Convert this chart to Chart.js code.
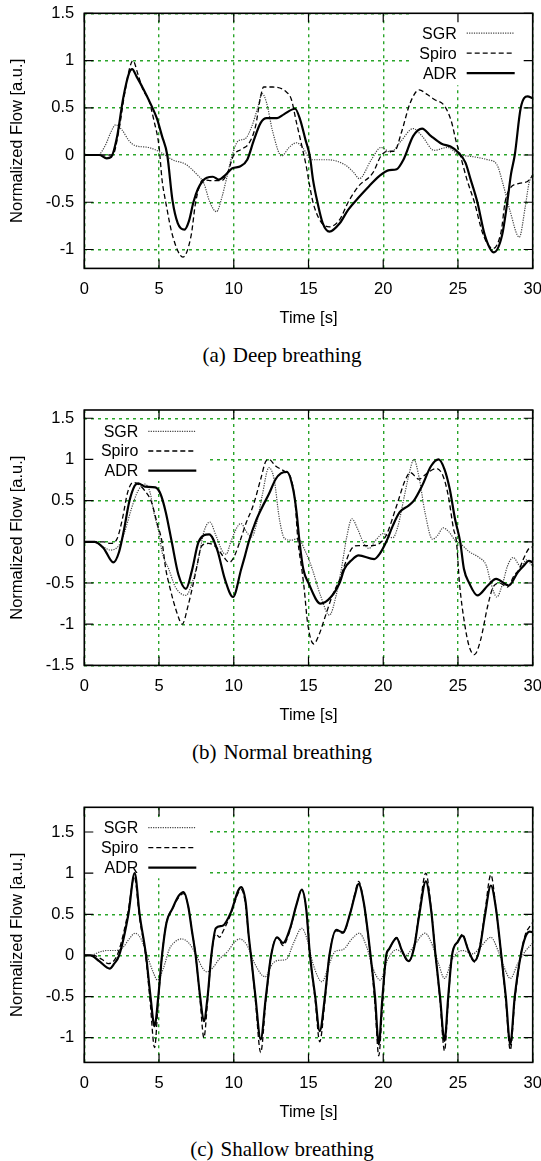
<!DOCTYPE html>
<html>
<head>
<meta charset="utf-8">
<script src="https://cdn.jsdelivr.net/npm/chart.js@4.4.1/dist/chart.umd.min.js"></script>
<style>
  html, body { margin: 0; padding: 0; background: #fff; overflow: hidden; }
  #page { position: relative; width: 541px; height: 1161px; overflow: hidden; background: #fff; }
  .panel { position: absolute; left: 0; width: 541px; }
  .caption { position: absolute; left: 0; width: 564px; text-align: center;
    font-family: 'Liberation Serif', 'Times New Roman', serif; font-size: 21px; line-height: 24px; color: #000; }
  .caption span { margin-right: 7px; }
</style>
</head>
<body>
<div id="page">
  <div class="panel" style="top:0px;height:328px"><canvas id="chartA" width="541" height="328"></canvas></div>
  <div class="caption" style="top:343px"><span>(a)</span>Deep breathing</div>
  <div class="panel" style="top:400px;height:325px"><canvas id="chartB" width="541" height="325"></canvas></div>
  <div class="caption" style="top:740px"><span>(b)</span>Normal breathing</div>
  <div class="panel" style="top:797px;height:325px"><canvas id="chartC" width="541" height="325"></canvas></div>
  <div class="caption" style="top:1137px"><span>(c)</span>Shallow breathing</div>
</div>
<script>
// ---------- tick labels ----------
const xTicks = [0, 5, 10, 15, 20, 25, 30];
const deepYTicks = [-1, -0.5, 0, 0.5, 1, 1.5];
const normalYTicks = [-1.5, -1, -0.5, 0, 0.5, 1, 1.5];
const shallowYTicks = [-1, -0.5, 0, 0.5, 1, 1.5];
const seriesNames = ['SGR', 'Spiro', 'ADR'];

// ---------- (a) Deep breathing : [time s, normalized flow] ----------
const deepSGR = [[0,0],[0.9,0],[1.4,0.1],[1.8,0.25],[2.1,0.32],[2.5,0.27],[3.0,0.15],[3.4,0.1],[4.3,0.08],[5.2,0.02],[5.9,-0.05],[6.8,-0.1],[7.5,-0.2],[8.0,-0.3],[8.4,-0.5],[8.85,-0.6],[9.2,-0.45],[9.5,-0.26],[9.9,0.0],[10.3,0.15],[10.75,0.17],[11.2,0.3],[11.6,0.5],[11.9,0.65],[12.2,0.55],[12.6,0.25],[13.2,-0.01],[13.7,0.08],[14.2,0.13],[14.6,0.08],[15.2,-0.05],[16.3,-0.05],[17.4,-0.1],[18.0,-0.18],[18.4,-0.25],[19.2,-0.05],[19.85,0.08],[20.5,0.03],[21.2,0.15],[22.0,0.28],[22.6,0.2],[23.4,0.05],[24.3,0.08],[25.0,0.01],[26.1,-0.02],[27.0,-0.05],[27.6,-0.1],[28.0,-0.3],[28.5,-0.6],[29.1,-0.87],[29.5,-0.55],[29.75,-0.3],[30,-0.2]];
const deepSpiro = [[0,0],[1.5,0],[1.9,0.0],[2.3,0.25],[2.7,0.65],[3.05,0.93],[3.25,1.0],[3.6,0.85],[3.95,0.68],[4.3,0.59],[4.65,0.37],[5.0,0.09],[5.2,-0.26],[5.45,-0.5],[5.9,-0.85],[6.6,-1.08],[7.15,-0.85],[7.45,-0.5],[7.95,-0.26],[8.4,-0.27],[9.2,-0.27],[9.6,-0.18],[10.0,0.0],[10.5,0.06],[11.0,0.12],[11.45,0.3],[11.8,0.62],[12.0,0.72],[12.6,0.72],[13.5,0.67],[13.85,0.59],[14.2,0.34],[14.55,0.1],[14.85,-0.12],[15.05,-0.3],[15.3,-0.5],[15.8,-0.7],[16.4,-0.76],[17.1,-0.68],[17.65,-0.5],[18.35,-0.33],[19.3,-0.19],[19.85,-0.01],[20.3,0.04],[20.75,0.04],[21.2,0.23],[21.8,0.55],[22.4,0.69],[22.95,0.64],[23.4,0.59],[24.1,0.52],[24.55,0.36],[24.9,0.13],[25.15,0],[25.6,-0.26],[26.1,-0.5],[26.7,-0.85],[27.35,-0.99],[27.9,-0.8],[28.15,-0.5],[28.5,-0.35],[29.1,-0.3],[29.65,-0.28],[30,-0.22]];
const deepADR = [[0,0],[1.0,0],[1.5,-0.035],[1.8,-0.02],[2.2,0.2],[2.6,0.6],[3.0,0.87],[3.2,0.91],[3.5,0.83],[3.95,0.70],[4.5,0.52],[4.85,0.39],[5.2,0.2],[5.55,0],[5.9,-0.48],[6.25,-0.72],[6.7,-0.79],[7.0,-0.7],[7.3,-0.5],[7.6,-0.36],[7.95,-0.27],[8.2,-0.24],[8.6,-0.23],[9.0,-0.26],[9.45,-0.21],[9.9,-0.14],[10.45,-0.12],[10.9,-0.05],[11.35,0.16],[11.8,0.34],[12.2,0.39],[12.9,0.39],[13.35,0.43],[14.1,0.49],[14.45,0.37],[14.8,0.16],[15.1,-0.02],[15.3,-0.26],[15.6,-0.5],[15.95,-0.72],[16.4,-0.81],[17.1,-0.72],[17.65,-0.58],[18.35,-0.45],[19.05,-0.33],[19.75,-0.22],[20.4,-0.16],[20.9,-0.15],[21.35,-0.05],[22.0,0.2],[22.6,0.28],[23.2,0.2],[23.9,0.12],[24.5,0.09],[25.0,0.03],[25.5,-0.08],[25.85,-0.26],[26.3,-0.5],[26.8,-0.85],[27.4,-1.03],[27.95,-0.85],[28.3,-0.5],[28.55,-0.2],[28.8,0],[29.2,0.5],[29.65,0.62],[30,0.6]];

// ---------- (b) Normal breathing ----------
const normalSGR = [[0,0],[0.6,0],[1.3,-0.065],[1.75,-0.1],[2.33,-0.04],[2.7,0.12],[3.15,0.4],[3.6,0.62],[4.05,0.7],[4.4,0.6],[4.65,0.36],[5.0,0.1],[5.2,-0.12],[5.65,-0.33],[6.1,-0.55],[6.8,-0.65],[7.3,-0.45],[7.65,-0.2],[8.0,0.12],[8.4,0.24],[8.8,0.08],[9.25,-0.12],[9.5,-0.15],[9.8,0.0],[10.3,0.2],[10.5,0.22],[10.85,0.12],[11.2,0.06],[11.55,0.24],[11.9,0.56],[12.35,0.9],[12.7,0.76],[13.05,0.28],[13.4,0.04],[13.85,0.02],[14.3,0.04],[14.8,-0.12],[15.25,-0.33],[15.8,-0.65],[16.4,-0.89],[16.85,-0.65],[17.2,-0.33],[17.55,0.05],[17.9,0.28],[18.3,0.15],[18.7,-0.02],[19.05,-0.08],[19.5,0.02],[20.0,0.1],[20.4,0.06],[20.65,0.05],[21.0,0.2],[21.35,0.5],[21.7,0.8],[22.05,1.0],[22.4,0.78],[22.8,0.35],[23.3,0.03],[23.65,0.08],[24.0,0.17],[24.4,0.12],[24.8,0.02],[25.15,-0.02],[25.75,-0.12],[26.4,-0.19],[26.9,-0.29],[27.2,-0.5],[27.6,-0.67],[28.0,-0.5],[28.3,-0.3],[28.7,-0.19],[29.2,-0.3],[29.6,-0.22],[30,-0.3]];
const normalSpiro = [[0,0],[1.3,0],[1.75,-0.02],[2.2,0.04],[2.55,0.28],[2.9,0.6],[3.25,0.72],[3.6,0.7],[4.05,0.62],[4.5,0.48],[4.85,0.24],[5.2,0.0],[5.45,-0.33],[5.65,-0.5],[6.25,-0.89],[6.55,-1.0],[6.95,-0.77],[7.3,-0.5],[7.5,-0.33],[7.85,-0.05],[8.3,-0.02],[8.8,-0.06],[9.35,-0.19],[9.7,-0.25],[10.05,-0.17],[10.4,0.0],[10.85,0.24],[11.3,0.44],[11.8,0.76],[12.15,0.98],[12.35,1.0],[12.8,0.92],[13.5,0.84],[13.85,0.76],[14.1,0.48],[14.3,0.0],[14.55,-0.33],[14.7,-0.55],[14.95,-1.0],[15.35,-1.24],[15.7,-1.13],[16.15,-0.89],[16.6,-0.65],[17.1,-0.45],[17.4,-0.29],[17.9,-0.08],[18.35,-0.045],[19.3,-0.045],[19.75,-0.02],[20.2,0.08],[20.9,0.44],[21.45,0.74],[21.8,0.84],[22.4,0.76],[22.85,0.82],[23.55,0.89],[24.0,0.8],[24.35,0.56],[24.7,0.16],[24.9,0.0],[25.1,-0.5],[25.45,-1.0],[25.75,-1.27],[26.1,-1.37],[26.5,-1.2],[27.0,-0.77],[27.35,-0.55],[27.8,-0.5],[28.3,-0.55],[28.75,-0.41],[29.1,-0.33],[29.4,-0.2],[29.75,-0.08],[30,-0.06]];
const normalADR = [[0,0],[0.7,0],[1.3,-0.08],[1.94,-0.25],[2.33,-0.12],[2.67,0.16],[3.0,0.48],[3.37,0.68],[3.6,0.71],[4.05,0.67],[4.75,0.66],[5.1,0.58],[5.45,0.36],[5.85,0.0],[6.3,-0.4],[6.8,-0.57],[7.2,-0.35],[7.65,0.0],[8.35,0.09],[8.9,-0.1],[9.4,-0.45],[9.95,-0.67],[10.5,-0.33],[10.75,-0.17],[11.0,0.0],[11.45,0.24],[11.9,0.42],[12.35,0.58],[12.8,0.76],[13.15,0.83],[13.55,0.85],[13.97,0.64],[14.2,0.36],[14.4,0.0],[14.65,-0.33],[15.0,-0.5],[15.8,-0.75],[16.5,-0.67],[17.1,-0.49],[17.4,-0.33],[17.9,-0.22],[18.35,-0.165],[19.4,-0.21],[19.75,-0.15],[20.2,0.0],[20.65,0.2],[21.1,0.36],[21.7,0.44],[22.05,0.5],[22.6,0.68],[23.2,0.92],[23.7,1.0],[24.1,0.88],[24.45,0.64],[24.8,0.28],[25.15,0.0],[25.4,-0.33],[25.75,-0.5],[26.3,-0.65],[27.0,-0.53],[27.55,-0.45],[28.4,-0.53],[29.0,-0.37],[29.4,-0.29],[29.75,-0.23],[30,-0.25]];

// ---------- (c) Shallow breathing ----------
const shallowSGR = [[0,0],[0.4,0],[1.0,0.04],[1.5,0.06],[2.1,0.06],[2.6,0.1],[3.0,0.2],[3.4,0.27],[3.8,0.2],[4.2,0.0],[4.6,-0.2],[4.9,-0.3],[5.3,-0.15],[5.7,0.08],[6.1,0.17],[6.5,0.2],[7.0,0.15],[7.5,0.0],[7.9,-0.15],[8.2,-0.2],[8.6,-0.15],[9.0,-0.05],[9.6,0.05],[10.0,0.15],[10.4,0.2],[10.9,0.12],[11.4,-0.1],[12.1,-0.26],[12.6,-0.1],[13.0,-0.06],[13.5,-0.05],[14.0,0.15],[14.55,0.33],[14.9,0.2],[15.3,-0.1],[15.9,-0.32],[16.4,-0.1],[16.8,0.05],[17.3,0.07],[17.9,0.2],[18.4,0.27],[18.9,0.1],[19.3,-0.15],[19.8,-0.3],[20.3,-0.05],[20.9,0.07],[21.5,0.0],[22.0,0.1],[22.8,0.27],[23.3,0.12],[23.7,-0.1],[24.1,-0.28],[24.6,-0.05],[25.3,0.06],[26.0,0.02],[26.5,0.1],[27.2,0.22],[27.7,0.05],[28.1,-0.15],[28.5,-0.28],[29.0,-0.1],[29.5,0.05],[30,0.15]];
const shallowSpiro = [[0,0],[0.6,0],[1.2,-0.05],[1.6,-0.1],[2.0,-0.06],[2.3,0.05],[2.9,0.5],[3.35,0.95],[3.7,0.45],[4.1,0],[4.4,-0.55],[4.7,-1.12],[4.95,-0.55],[5.2,0],[5.5,0.4],[5.9,0.57],[6.3,0.7],[6.65,0.75],[6.95,0.6],[7.2,0.3],[7.45,0],[7.75,-0.55],[8.0,-1.0],[8.25,-0.55],[8.5,0],[8.8,0.26],[9.05,0.22],[9.3,0.3],[9.8,0.5],[10.3,0.76],[10.5,0.8],[10.8,0.6],[11.0,0.22],[11.15,0],[11.45,-0.55],[11.8,-1.18],[12.15,-0.55],[12.5,0],[12.9,0.22],[13.3,0.12],[13.75,0.3],[14.2,0.62],[14.55,0.8],[14.85,0.55],[15.1,0],[15.45,-0.55],[15.75,-1.05],[16.1,-0.55],[16.4,0],[16.85,0.3],[17.3,0.27],[17.8,0.52],[18.1,0.75],[18.35,0.9],[18.7,0.64],[19.0,0.22],[19.15,0],[19.45,-0.6],[19.7,-1.22],[19.95,-0.6],[20.2,0],[20.4,0.08],[20.9,0.22],[21.25,0.06],[21.7,-0.08],[22.05,0.1],[22.4,0.52],[22.85,1.0],[23.2,0.58],[23.5,0],[23.8,-0.55],[24.1,-1.16],[24.35,-0.55],[24.6,0],[25.0,0.17],[25.3,0.26],[25.7,0.06],[26.1,-0.08],[26.45,0.1],[26.8,0.52],[27.2,0.98],[27.55,0.56],[27.9,0],[28.2,-0.55],[28.5,-1.15],[28.8,-0.55],[29.2,0],[29.5,0.25],[29.8,0.35],[30,0.4]];
const shallowADR = [[0,0],[0.4,0],[1.0,-0.07],[1.7,-0.16],[2.0,-0.1],[2.33,0],[2.95,0.5],[3.37,1.0],[3.7,0.5],[4.13,0],[4.43,-0.5],[4.7,-0.86],[4.95,-0.5],[5.2,0],[5.5,0.4],[5.9,0.57],[6.3,0.72],[6.65,0.77],[6.95,0.6],[7.2,0.3],[7.45,0],[7.75,-0.5],[8.0,-0.8],[8.25,-0.5],[8.5,0],[8.8,0.33],[9.25,0.36],[9.8,0.52],[10.3,0.79],[10.5,0.83],[10.8,0.64],[11.0,0.24],[11.15,0],[11.45,-0.5],[11.8,-1.02],[12.15,-0.5],[12.5,0],[12.9,0.22],[13.3,0.15],[13.75,0.32],[14.2,0.62],[14.55,0.8],[14.85,0.56],[15.1,0],[15.45,-0.5],[15.75,-0.92],[16.1,-0.5],[16.4,0],[16.85,0.31],[17.3,0.28],[17.8,0.52],[18.1,0.73],[18.35,0.87],[18.7,0.64],[19.0,0.24],[19.15,0],[19.45,-0.5],[19.7,-1.08],[19.95,-0.5],[20.2,0],[20.4,0.08],[20.9,0.21],[21.25,0.06],[21.7,-0.07],[22.05,0.08],[22.4,0.48],[22.85,0.9],[23.2,0.56],[23.5,0],[23.8,-0.5],[24.1,-1.04],[24.35,-0.5],[24.6,0],[25.0,0.17],[25.3,0.24],[25.7,0.06],[26.1,-0.07],[26.45,0.08],[26.8,0.48],[27.2,0.85],[27.55,0.56],[27.9,0],[28.2,-0.5],[28.5,-1.08],[28.8,-0.5],[29.2,0],[29.5,0.22],[29.8,0.29],[30,0.28]];

// ---------- drawing ----------
Chart.defaults.font.family = "'Liberation Sans', Arial, Helvetica, sans-serif";
Chart.defaults.font.size = 16.5;
Chart.defaults.color = '#000';

const GRID_GREEN = '#2aa52a';
const STYLES = [
  { color: '#444444', width: 1.2, dash: [1.2, 1.2] },   // SGR dotted
  { color: '#000000', width: 1.3, dash: [5, 3] },       // Spiro dashed
  { color: '#000000', width: 2.2, dash: [] }            // ADR solid
];

const gnuPlugin = {
  id: 'gnu',
  beforeDatasetsDraw(chart, args, o) {
    const a = chart.chartArea, ctx = chart.ctx;
    const bx = o.side === 'right' ? a.right - o.boxW : a.left;
    ctx.save();
    ctx.fillStyle = '#fff';
    ctx.fillRect(bx, a.top + o.boxTop, o.boxW, o.boxH);
    ctx.restore();
  },
  afterDatasetsDraw(chart, args, o) {
    const a = chart.chartArea, ctx = chart.ctx;
    ctx.save();
    // legend entries
    const textX = o.side === 'right' ? a.right - o.textFromEdge : a.left + o.textFromEdge;
    ctx.font = "16px 'Liberation Sans', Arial, sans-serif";
    ctx.textAlign = 'right';
    ctx.textBaseline = 'middle';
    chart.data.datasets.forEach((ds, i) => {
      const y = a.top + o.row0 + i * o.rowStep;
      ctx.fillStyle = '#000';
      ctx.fillText(ds.label, textX, y + 1);
      ctx.beginPath();
      ctx.strokeStyle = ds.borderColor;
      ctx.lineWidth = ds.borderWidth;
      ctx.setLineDash(ds.borderDash || []);
      ctx.moveTo(textX + 10, y);
      ctx.lineTo(textX + 58, y);
      ctx.stroke();
    });
    ctx.setLineDash([]);
    // inward tick marks on all sides
    const xs = chart.scales.x, ys = chart.scales.y;
    ctx.strokeStyle = '#000';
    ctx.lineWidth = 1.2;
    ctx.beginPath();
    xs.ticks.forEach(t => {
      const px = xs.getPixelForValue(t.value);
      ctx.moveTo(px, a.bottom); ctx.lineTo(px, a.bottom - 9);
      ctx.moveTo(px, a.top); ctx.lineTo(px, a.top + 9);
    });
    ys.ticks.forEach(t => {
      const py = ys.getPixelForValue(t.value);
      ctx.moveTo(a.left, py); ctx.lineTo(a.left + 9, py);
      ctx.moveTo(a.right, py); ctx.lineTo(a.right - 9, py);
    });
    ctx.stroke();
    // frame
    ctx.lineWidth = 1.6;
    ctx.strokeRect(a.left, a.top, a.right - a.left, a.bottom - a.top);
    ctx.restore();
  }
};

function makeChart(id, series, yMin, yMax, yTicks, padTop, legendOpts) {
  const datasets = series.map((pts, i) => ({
    label: seriesNames[i],
    data: pts.map(p => ({ x: p[0], y: p[1] })),
    borderColor: STYLES[i].color,
    borderWidth: STYLES[i].width,
    borderDash: STYLES[i].dash,
    pointRadius: 0,
    fill: false,
    cubicInterpolationMode: 'monotone',
    order: 2 - i
  }));
  return new Chart(document.getElementById(id), {
    type: 'line',
    data: { datasets },
    plugins: [gnuPlugin],
    options: {
      responsive: false,
      animation: false,
      devicePixelRatio: 1,
      layout: { padding: { left: 0, right: 8.3, top: padTop, bottom: 0 } },
      plugins: { legend: { display: false }, tooltip: { enabled: false }, gnu: legendOpts },
      scales: {
        x: {
          type: 'linear', min: 0, max: 30,
          afterBuildTicks: s => { s.ticks = xTicks.map(v => ({ value: v })); },
          afterFit: s => { s.height = 59.6; s.paddingLeft = 0; s.paddingRight = 0; },
          ticks: { padding: 11, maxRotation: 0, autoSkip: false, color: '#000',
                   callback: v => String(v) },
          grid: { color: GRID_GREEN, lineWidth: 1.4, drawTicks: false },
          border: { display: false, dash: [3, 4] },
          title: { display: true, text: 'Time [s]', color: '#000', padding: { top: 0, bottom: 0 } }
        },
        y: {
          type: 'linear', min: yMin, max: yMax,
          afterBuildTicks: s => { s.ticks = yTicks.map(v => ({ value: v })); },
          afterFit: s => { s.width = 84.3; s.paddingTop = 0; s.paddingBottom = 0; },
          ticks: { padding: 10, autoSkip: false, color: '#000', callback: v => String(v) },
          grid: { color: GRID_GREEN, lineWidth: 1.4, drawTicks: false },
          border: { display: false, dash: [3, 4] },
          title: { display: true, text: 'Normalized Flow [a.u.]', color: '#000', padding: { top: 7.1, bottom: 0 } }
        }
      }
    }
  });
}

makeChart('chartA', [deepSGR, deepSpiro, deepADR], -1.2, 1.5, deepYTicks, 13.3,
  { side: 'right', boxW: 121, boxTop: 0, boxH: 72, textFromEdge: 76, row0: 19.8, rowStep: 20 });
makeChart('chartB', [normalSGR, normalSpiro, normalADR], -1.5, 1.6, normalYTicks, 10,
  { side: 'left', boxW: 122.4, boxTop: 11, boxH: 60, textFromEdge: 54, row0: 21.4, rowStep: 19.6 });
makeChart('chartC', [shallowSGR, shallowSpiro, shallowADR], -1.3, 1.8, shallowYTicks, 10.3,
  { side: 'left', boxW: 122.4, boxTop: 10, boxH: 61, textFromEdge: 54, row0: 20.4, rowStep: 20 });
</script>
</body>
</html>
